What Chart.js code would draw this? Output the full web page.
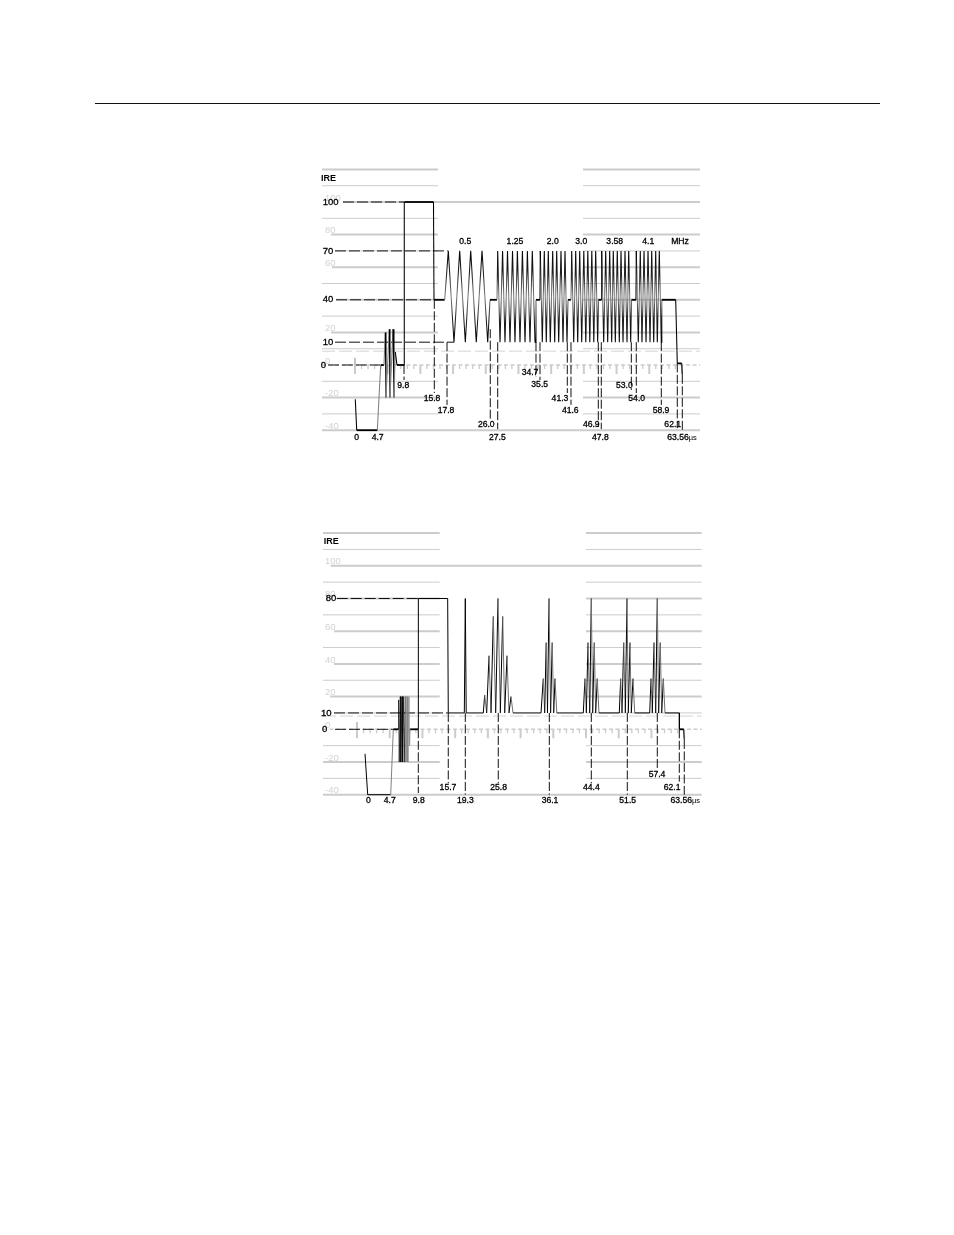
<!DOCTYPE html>
<html>
<head>
<meta charset="utf-8">
<title>IRE test signals</title>
<script src="https://cdn.jsdelivr.net/npm/chart.js@4/dist/chart.umd.min.js"></script>
<style>
  body { margin: 0; background: #fff; }
  #rule { position: absolute; left: 95px; top: 103px; width: 785px; height: 1.4px; background: #111; }
  canvas { position: absolute; left: 300px; }
  #top { top: 160px; }
  #bottom { top: 525px; }
</style>
</head>
<body>
<div id="rule"></div>
<canvas id="top" width="410" height="300"></canvas>
<canvas id="bottom" width="410" height="300"></canvas>
<script>
// ---- upper waveform (multiburst at 40 IRE) ----
var trace1T = [-0.14,0.14,4.16,4.82,5.46,5.72,5.85,6.50,6.63,7.22,7.41,7.67,8.0,9.37,9.42,15.12,15.22,17.31,
  18.01,19.12,20.23,21.33,22.38,23.47,24.59,25.70,26.15,27.51,
  27.65,28.10,28.60,29.07,29.56,30.05,30.54,31.02,31.49,32.0,32.47,32.98,33.44,33.95,34.40,34.93,35.12,35.90,
  35.96,36.35,36.74,37.13,37.52,37.91,38.38,38.77,39.16,39.55,40.0,40.39,40.78,41.17,41.37,41.95,
  42.09,42.48,42.87,43.26,43.65,44.04,44.45,44.84,45.23,45.62,46.01,46.40,46.77,47.16,47.32,47.86,
  47.94,48.33,48.72,49.11,49.5,49.89,50.2,50.6,50.98,51.38,51.71,52.1,52.49,52.88,53.21,53.6,53.76,54.63,
  54.69,55.08,55.47,55.8,56.2,56.59,56.98,57.37,57.7,58.09,58.48,58.79,59.18,59.57,59.67,62.38,62.69,63.55,63.67];
var trace1V = [-21,-40,-40,0,0,20,-20,22,-20,22,-20,8,0,0,100,100,40,40,
  70,14,70,14,70,14,70,14,40,40,
  70,14,70,14,70,14,70,14,70,14,70,14,70,14,70,14,40,40,
  70,14,70,14,70,14,70,14,70,14,70,14,70,14,40,40,
  70,14,70,14,70,14,70,14,70,14,70,14,70,14,40,40,
  70,14,70,14,70,14,70,14,70,14,70,14,70,14,70,14,40,40,
  70,14,70,14,70,14,70,14,70,14,70,14,70,14,40,40,1,1,-6];

var drop1Labels = ['9.8','15.8','17.8','26.0','27.5','34.7','35.5','41.3','41.6','46.9','47.8','53.0','54.0','58.9','62.1','63.56'];
var drop1T    = [9.37,15.28,17.76,26.2,27.65,35.12,35.9,41.23,41.95,47.28,47.86,53.72,54.69,59.57,62.69,63.67];
var drop1From = [0,40,14,22,14,14,14,14,14,14,14,14,14,14,1,-6];
var drop1To   = [-9.2,-17.2,-24.5,-33.7,-39.3,-7.4,-9.2,-17.2,-24.5,-38,-39.3,-15.3,-17.2,-24.5,-38.7,-41];
var label1T   = [9.23,14.83,17.56,25.42,27.57,33.95,35.84,39.8,41.81,45.91,47.67,52.35,54.77,59.51,61.8,63.61];
var label1V   = [-12.5,-20.7,-28.2,-36.4,-44.6,-4.7,-12.3,-20.7,-28.2,-36.4,-44.6,-12.7,-20.7,-28.2,-36.4,-44.6];

var plain1Labels = ['0','4.7'];
var plain1T = [0.14,4.23];
var plain1V = [-44.6,-44.6];

var freqLabels = ['0.5','1.25','2.0','3.0','3.58','4.1','MHz'];
var freqT = [21.33,31.02,38.38,43.96,50.48,57.03,63.22];
var freqV = 75.6;

var hdash1V    = [100,70,40,14,0];
var hdash1From = [-2.54,-4.1,-3.9,-4.1,-5.46];
var hdash1To   = [9.37,17.9,15.02,19.12,4.68];

var dark1Labels = ['100','70','40','10','0'];
var dark1V = [100,70,40,14,0];
var dark1T = [-6.5,-6.5,-6.5,-6.5,-6.9];
var faint1Labels = ['100','80','60','20','0','-20','-40'];
var faint1V = [100,80,60,20,0,-20,-40];

var gridLevels = [120,110,100,90,80,70,60,50,40,30,20,10,-10,-20,-30,-40];
var gridThick  = [120,100,80,60,40,20,-20,-40];
var fullLevels = [100,-40];
var grid1Start = [-6.63,-6.63,-2.54,-6.63,-4.88,-4.1,-4.68,-6.63,-3.9,-6.63,-4.88,-6.63,-6.63,-6.63,-6.63,-6.63];

// ---- lower waveform (multipulse) ----
var trace2T = [-0.60,-0.06,4.56,5.08,6.08,6.16,6.27,6.49,6.59,6.83,6.93,7.17,7.27,7.53,7.63,7.89,7.99,8.23,8.35,8.47,10.10,10.11,16.0,16.12,19.34,19.54,19.72,23.15,
  23.43,23.83,24.30,24.70,25.16,25.64,26.10,26.57,27.05,27.45,27.91,28.31,28.71,29.12,
  34.74,35.2,35.48,35.78,36.04,36.35,36.67,36.99,37.29,37.55,37.91,
  43.23,43.57,43.84,44.18,44.52,44.84,45.12,45.44,45.72,46.04,46.38,
  50.46,50.74,51.0,51.35,51.67,52.01,52.27,52.61,52.87,53.21,53.56,
  56.57,56.83,57.09,57.43,57.77,58.09,58.37,58.69,58.98,59.3,59.64,
  62.51,62.53,63.39,63.51];
var trace2V = [-15,-40,-40,0,0,18,-20,20,-20,20,-20,20,-20,20,-20,20,-20,20,-10,0,0,80,80,10,10,80,10,10,
  21,10,45,10,69,10,80,10,69,10,45,10,20,10,
  10,31,10,53,10,80,10,53,10,31,10,
  10,31,10,53,10,80,10,53,10,31,10,
  10,31,10,53,10,80,10,53,10,31,10,
  10,31,10,53,10,80,10,53,10,31,10,
  10,0,0,-6.5];

var drop2Labels = ['9.8','15.7','19.3','25.8','36.1','44.4','51.5','57.4','62.1','63.56'];
var drop2T    = [10.1,16.12,19.54,26.16,36.41,44.84,52.07,58.09,62.51,63.51];
var drop2From = [0,10,10,10,10,10,10,10,0,-6.5];
var drop2To   = [-39,-33,-40,-33,-40,-33,-40,-25,-32,-40];
var label2T   = [10.18,16.06,19.54,26.24,36.55,44.84,52.15,58.03,61.08,63.71];
var label2V   = [-43.7,-35.7,-43.7,-35.7,-43.7,-35.7,-43.7,-28,-35.7,-43.7];

var plain2Labels = ['0','4.7'];
var plain2T = [0.06,4.36];
var plain2V = [-43.7,-43.7];

var hdash2V    = [80,10,0];
var hdash2From = [-6.28,-6.83,-6.63];
var hdash2To   = [10.1,16.06,5.08];

var dark2Labels = ['80','10','0'];
var dark2V = [80,10,0];
var dark2T = [-8.49,-9.44,-9.24];
var faint2Labels = ['100','80','60','40','20','0','-20','-40'];
var faint2V = [100,80,60,40,20,0,-20,-40];

var grid2Start = [-9.04,-9.04,-7.49,-9.04,-6.28,-9.04,-6.83,-9.04,-6.83,-9.04,-7.6,-6.83,-9.04,-9.04,-9.04,-9.04];

var GRID = '#cccccc';
var FONT = '"Liberation Sans"';

function toXY(xs, ys) {
  var out = [];
  for (var i = 0; i < xs.length; i++) out.push({x: xs[i], y: ys[i]});
  return out;
}

// several pieces in one dataset, cut with null points
function pieces(list) {
  var out = [];
  for (var i = 0; i < list.length; i++) {
    out.push({x: list[i][0], y: list[i][1]}, {x: list[i][2], y: list[i][3]}, {x: list[i][2], y: null});
  }
  return out;
}

function lineSet(data, color, width, order, dash) {
  return {
    data: data, borderColor: color, borderWidth: width, order: order,
    borderDash: dash || [], pointRadius: 0, tension: 0, fill: false,
    spanGaps: false, clip: false, borderCapStyle: 'butt'
  };
}

// print with a hair of stroke, the scan is heavier than the plain font
function ink(c, s, x, y) {
  c.fillText(s, x, y);
  c.strokeText(s, x, y);
}

var textPlugin = {
  id: 'waveText',
  afterDatasetsDraw: function(chart) {
    var t = chart.options.plugins.waveText;
    var c = chart.ctx, sx = chart.scales.x, sy = chart.scales.y;
    c.save();
    c.textBaseline = 'middle';
    c.font = '9.5px ' + FONT;
    c.textAlign = 'left';
    c.fillStyle = '#d2d2d2';
    t.faint.labels.forEach(function(s, i) {
      c.fillText(s, sx.getPixelForValue(t.faint.x), sy.getPixelForValue(t.faint.v[i]) - 4);
    });
    c.fillStyle = '#000';
    c.strokeStyle = '#000';
    c.lineWidth = 0.3;
    t.dark.labels.forEach(function(s, i) {
      ink(c, s, sx.getPixelForValue(t.dark.t[i]), sy.getPixelForValue(t.dark.v[i]));
    });
    c.font = 'bold 9px ' + FONT;
    c.fillText('IRE', sx.getPixelForValue(t.ire[0]), sy.getPixelForValue(t.ire[1]));
    c.font = '8.6px ' + FONT;
    c.textAlign = 'center';
    t.notes.forEach(function(n) {
      n.labels.forEach(function(s, i) {
        var px = sx.getPixelForValue(n.t[i]), py = sy.getPixelForValue(n.v[i]);
        if (s === '63.56') {
          // microsecond unit is set smaller, after the number
          var w = c.measureText(s).width;
          ink(c, s, px - 4, py);
          c.save();
          c.font = '7.5px ' + FONT;
          c.textAlign = 'left';
          c.fillText('\u00b5s', px - 4 + w / 2, py + 0.5);
          c.restore();
        } else {
          ink(c, s, px, py);
        }
      });
    });
    c.restore();
  }
};

function gridSets(start, midL, midR, end) {
  var thin = [], thick = [];
  gridLevels.forEach(function(v, i) {
    var bag = gridThick.indexOf(v) >= 0 ? thick : thin;
    if (fullLevels.indexOf(v) >= 0) {
      bag.push([start[i], v, end, v]);
    } else {
      bag.push([start[i], v, midL, v]);
      bag.push([midR, v, end, v]);
    }
  });
  return [lineSet(pieces(thin), GRID, 1, 5), lineSet(pieces(thick), GRID, 2, 5)];
}

// time axis along 0 IRE: every fifth tick is long, the first also goes upward
function axisSets(first, step, end, left) {
  var minor = [], major = [];
  for (var i = 0; i <= 50; i++) {
    var x = first + i * step;
    if (i % 5 === 0) major.push([x, 0, x, -5.5]);
    else minor.push([x, 0, x, -2.4]);
  }
  return [
    lineSet(pieces(minor), '#cccccc', 1.3, 4),
    lineSet(pieces(major), '#cccccc', 2, 4),
    lineSet(pieces([[first, 4.4, first, -5]]), '#b4b4b4', 1.5, 4),
    lineSet(pieces([[left, 0, end, 0]]), '#cccccc', 1.5, 4, [4, 2.5])
  ];
}

var packetInk = null;
function packetGradient(chart) {
  if (!packetInk) {
    var sy = chart.scales.y;
    packetInk = chart.ctx.createLinearGradient(0, sy.getPixelForValue(70), 0, sy.getPixelForValue(14));
    packetInk.addColorStop(0, '#000');
    packetInk.addColorStop(0.25, '#222');
    packetInk.addColorStop(0.5, '#808080');
    packetInk.addColorStop(0.75, '#222');
    packetInk.addColorStop(1, '#000');
  }
  return packetInk;
}

function makeChart(id, o) {
  var dashes = [];
  o.hdashV.forEach(function(v, i) { dashes.push([o.hdashFrom[i], v, o.hdashTo[i], v]); });
  var drops = [];
  o.dropT.forEach(function(x, i) { drops.push([x, o.dropFrom[i], x, o.dropTo[i]]); });

  var trace = lineSet(toXY(o.traceT, o.traceV), '#000', 1, 0);
  trace.segment = {
    borderWidth: function(ctx) {
      if (ctx.p0.parsed.y === ctx.p1.parsed.y) return o.flatWidth(ctx.p0.parsed.y);
      return o.slopeWidth(ctx.p0.parsed.x);
    },
    borderColor: function(ctx) { return o.slopeColor(ctx); }
  };

  var sets = [trace,
    lineSet(pieces(dashes), '#111', 1, 1, [11, 3]),
    lineSet(pieces(drops), '#111', 1, 1, [9, 2.5]),
    lineSet(pieces([[o.gridStart[0], o.dotted, o.end, o.dotted]]), '#d4d4d4', 1, 5, [13, 4])
  ].concat(gridSets(o.gridStart, o.midL, o.midR, o.end))
   .concat(axisSets(o.axisFirst, o.axisStep, o.end, o.gridStart[0]));

  return new Chart(document.getElementById(id), {
    type: 'line',
    data: {datasets: sets},
    plugins: [textPlugin],
    options: {
      responsive: false,
      animation: false,
      devicePixelRatio: 1,
      layout: {padding: 0},
      scales: {
        x: {type: 'linear', display: false, min: o.xRange[0], max: o.xRange[1]},
        y: {type: 'linear', display: false, min: o.yRange[0], max: o.yRange[1]}
      },
      plugins: {
        legend: {display: false},
        tooltip: {enabled: false},
        waveText: o.text
      }
    }
  });
}

makeChart('top', {
  traceT: trace1T, traceV: trace1V,
  hdashV: hdash1V, hdashFrom: hdash1From, hdashTo: hdash1To,
  dropT: drop1T, dropFrom: drop1From, dropTo: drop1To,
  gridStart: grid1Start, midL: 16.0, midR: 44.29, end: 67.12,
  dotted: 8.5, axisFirst: -0.2, axisStep: 1.276,
  xRange: [-10.927, 69.073], yRange: [-58.28, 125.77],
  slopeWidth: function() { return 1.05; },
  flatWidth: function() { return 1.8; },
  slopeColor: function(ctx) {
    var a = ctx.p0.parsed, b = ctx.p1.parsed;
    if (a.y === b.y || b.x - a.x < 0.1) return '#000';
    if (a.x > 17 && b.x < 60) return packetGradient(ctx.chart);
    // rising edges in the front burst print grey
    return b.y > a.y && a.x < 9 ? '#808080' : '#000';
  },
  text: {
    faint: {labels: faint1Labels, v: faint1V, x: -6.05},
    dark: {labels: dark1Labels, v: dark1V, t: dark1T},
    ire: [-6.85, 114.5],
    notes: [
      {labels: drop1Labels, t: label1T, v: label1V},
      {labels: plain1Labels, t: plain1T, v: plain1V},
      {labels: freqLabels, t: freqT, v: freqLabels.map(function() { return freqV; })}
    ]
  }
});

makeChart('bottom', {
  traceT: trace2T, traceV: trace2V,
  hdashV: hdash2V, hdashFrom: hdash2From, hdashTo: hdash2To,
  dropT: drop2T, dropFrom: drop2From, dropTo: drop2To,
  gridStart: grid2Start, midL: 14.4, midR: 43.78, end: 67.0,
  dotted: 8.1, axisFirst: -2.21, axisStep: 1.314,
  xRange: [-13.655, 68.675], yRange: [-58.53, 124.95],
  slopeWidth: function(x) { return x > 6 && x < 9 ? 0.7 : 1; },
  flatWidth: function(v) { return v === 0 ? 1.8 : 1; },
  slopeColor: function(ctx) {
    var a = ctx.p0.parsed, b = ctx.p1.parsed;
    if (a.x > 7.4 && b.x < 9) return '#808080';
    if (a.x > 20 && b.x < 60 && b.y < a.y) return '#707070';
    return a.x < 9 && b.y > a.y && a.y < 0 && b.x - a.x > 0.3 ? '#808080' : '#000';
  },
  text: {
    faint: {labels: faint2Labels, v: faint2V, x: -8.63},
    dark: {labels: dark2Labels, v: dark2V, t: dark2T},
    ire: [-8.9, 114.7],
    notes: [
      {labels: drop2Labels, t: label2T, v: label2V},
      {labels: plain2Labels, t: plain2T, v: plain2V}
    ]
  }
});
</script>
</body>
</html>
